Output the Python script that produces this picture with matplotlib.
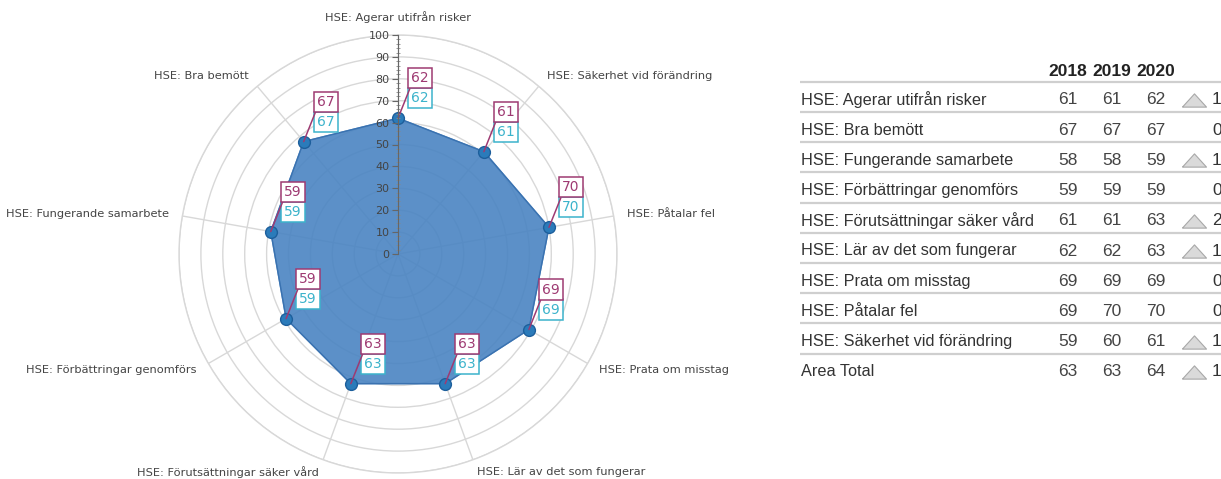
import numpy as np
import matplotlib
matplotlib.use("Agg")
import matplotlib.pyplot as plt
from matplotlib.ticker import MultipleLocator

# radar spokes, clockwise from the top
radar_axes = [
    "HSE: Agerar utifrån risker", "HSE: Säkerhet vid förändring", "HSE: Påtalar fel",
    "HSE: Prata om misstag", "HSE: Lär av det som fungerar", "HSE: Förutsättningar säker vård",
    "HSE: Förbättringar genomförs", "HSE: Fungerande samarbete", "HSE: Bra bemött",
]
radar_unit = [62, 61, 70, 69, 63, 63, 59, 59, 67]   # purple labels
radar_area = [62, 61, 70, 69, 63, 63, 59, 59, 67]   # cyan labels

# table on the right
table_rows = [
    "HSE: Agerar utifrån risker", "HSE: Bra bemött", "HSE: Fungerande samarbete",
    "HSE: Förbättringar genomförs", "HSE: Förutsättningar säker vård",
    "HSE: Lär av det som fungerar", "HSE: Prata om misstag", "HSE: Påtalar fel",
    "HSE: Säkerhet vid förändring", "Area Total",
]
years = ["2018", "2019", "2020"]
v2018 = [61, 67, 58, 59, 61, 62, 69, 69, 59, 63]
v2019 = [61, 67, 58, 59, 61, 62, 69, 70, 60, 63]
v2020 = [62, 67, 59, 59, 63, 63, 69, 70, 61, 64]

PURPLE = "#9e3a72"
CYAN = "#3cb3cb"
GRID = "#d8d8d8"

W, H = 1221, 479
fig = plt.figure(figsize=(W / 100, H / 100), dpi=100)

# ---- radar ----
cx, cy, R = 398, 254, 219
ax = fig.add_axes([(cx - R) / W, (H - cy - R) / H, 2 * R / W, 2 * R / H], projection="polar")
ax.set_theta_zero_location("N")
ax.set_theta_direction(-1)
ax.set_ylim(0, 100)

n = len(radar_axes)
theta = np.arange(n) * 2 * np.pi / n
ax.set_xticks(theta)
ax.set_xticklabels([])
ax.set_yticks(np.arange(10, 101, 10))
ax.set_yticklabels([])
ax.grid(True, color=GRID, lw=1.0)
ax.spines["polar"].set_color(GRID)
ax.spines["polar"].set_linewidth(1.0)
ax.tick_params(length=0)

th = np.append(theta, theta[0])
vals = np.append(radar_unit, radar_unit[0])
ax.fill(th, vals, color="#4a84c2", alpha=0.9, zorder=2)
ax.plot(th, vals, color="#3a72b0", lw=1.0, zorder=3)
ax.plot(theta, radar_unit, "o", ms=8.5, mfc="#2b7bba", mec="#1d5f9c", mew=1.0, zorder=4)

for t, name in zip(theta, radar_axes):
    s = np.sin(t)
    if abs(s) < 1e-6:
        ax.text(t, 108, name, ha="center", va="center", fontsize=8.2, color="#444444")
    else:
        ax.text(t, 106, name, ha="left" if s > 0 else "right", va="center",
                fontsize=8.2, color="#444444")

for t, a, b in zip(theta, radar_unit, radar_area):
    ax.annotate(str(b), xy=(t, b), xytext=(22, 20), textcoords="offset pixels",
                ha="center", va="center", fontsize=10, color=CYAN, zorder=6,
                bbox=dict(boxstyle="square,pad=0.22", fc="white", ec=CYAN, lw=1.1))
    ax.annotate(str(a), xy=(t, a), xytext=(22, 40), textcoords="offset pixels",
                ha="center", va="center", fontsize=10, color=PURPLE, zorder=7,
                bbox=dict(boxstyle="square,pad=0.22", fc="white", ec=PURPLE, lw=1.1),
                arrowprops=dict(arrowstyle="-", color=PURPLE, lw=1.1,
                                relpos=(0, 0), shrinkA=0, shrinkB=0))

# vertical value axis along the top spoke
rax = fig.add_axes([cx / W, (H - cy) / H, 1 / W, R / H])
rax.set_ylim(0, 100)
rax.set_xticks([])
rax.patch.set_visible(False)
for side in ("top", "right", "bottom"):
    rax.spines[side].set_visible(False)
rax.spines["left"].set_color("#666666")
rax.yaxis.set_major_locator(MultipleLocator(10))
rax.yaxis.set_minor_locator(MultipleLocator(2))
rax.tick_params(axis="y", which="major", length=4, width=0.8, color="#666666",
                labelsize=8, labelcolor="#444444", pad=2)
rax.tick_params(axis="y", which="minor", length=3, width=0.6, color="#888888", direction="inout")

# ---- table ----
top_i, bot_i = -1.5, len(table_rows) - 0.5
row_h = 30.2
y_top = 100 + row_h * top_i
y_bot = 100 + row_h * bot_i
tx0, tx1 = 780, W
tax = fig.add_axes([tx0 / W, (H - y_bot) / H, (tx1 - tx0) / W, (y_bot - y_top) / H])
tax.set_xlim(tx0, tx1)
tax.set_ylim(bot_i, top_i)
tax.axis("off")

col_x = [1068, 1112, 1156]
for x, yr in zip(col_x, years):
    tax.text(x, -0.93, yr, ha="center", va="center", fontsize=12.5,
             fontweight="bold", color="#222222", family="Liberation Sans")

for yl in np.arange(-1, len(table_rows) - 1) + 0.4:
    tax.plot([800, tx1], [yl, yl], color="#cfcfcf", lw=1.6, solid_capstyle="butt")

tri = [(-1, -0.55), (1, -0.55), (0, 0.55), (-1, -0.55)]
for i, name in enumerate(table_rows):
    tax.text(801, i, name, ha="left", va="center", fontsize=11.7,
             color="#333333", family="Liberation Sans")
    for x, col in zip(col_x, (v2018, v2019, v2020)):
        tax.text(x, i, str(col[i]), ha="center", va="center", fontsize=12.5,
                 color="#444444", family="Liberation Sans")
    delta = v2020[i] - v2019[i]
    if delta > 0:
        tax.scatter([1194], [i], marker=tri, s=300, c="#dadada", edgecolors="#a8a8a8",
                    linewidths=0.8, clip_on=False)
    tax.text(1212, i, str(delta), ha="left", va="center", fontsize=12.5,
             color="#333333", family="Liberation Sans", clip_on=False)

fig.savefig("out.png", dpi=100)
